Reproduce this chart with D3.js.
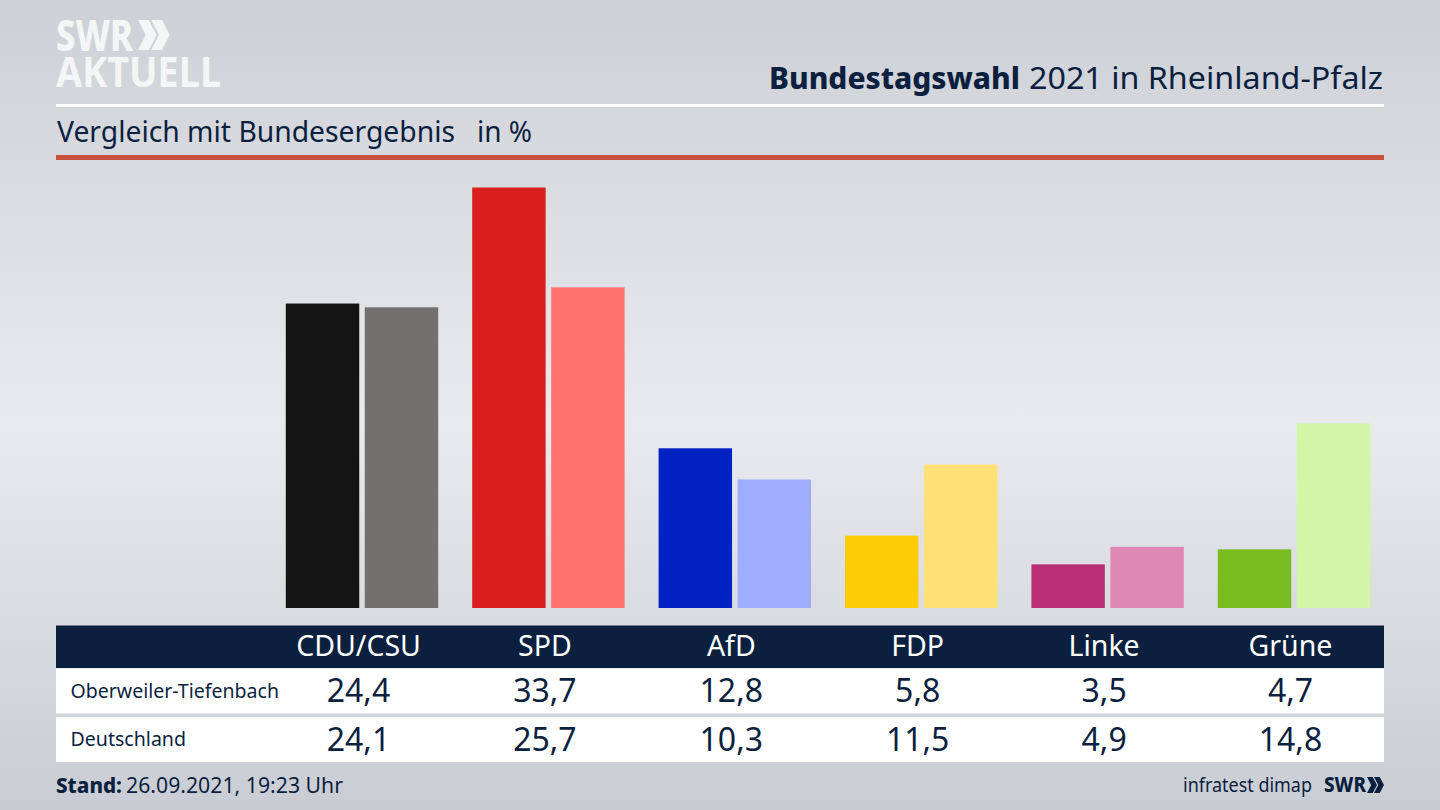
<!DOCTYPE html>
<html>
<head>
<meta charset="utf-8">
<script src="https://cdn.jsdelivr.net/npm/d3@7"></script>
<style>
  html, body { margin: 0; padding: 0; background: #dfe1e6; overflow: hidden; }
  svg { display: block; }
  text { font-family: "Noto Sans", sans-serif; fill: #0b1f3f; }
</style>
</head>
<body>
<div id="chart"></div>
<script>
// values
var parties = ["CDU/CSU", "SPD", "AfD", "FDP", "Linke", "Grüne"];
var rows = ["Oberweiler-Tiefenbach", "Deutschland"];
var local_values = [24.4, 33.7, 12.8, 5.8, 3.5, 4.7];
var national_values = [24.1, 25.7, 10.3, 11.5, 4.9, 14.8];
var local_colors = ["#141414", "#d81e1e", "#0222c4", "#ffcc0a", "#bb2f78", "#78bc1e"];
var national_colors = ["#72716f", "#ff726e", "#9eadff", "#ffe074", "#df88b6", "#d2f5a8"];

var width = 1440, height = 810;
var navy = "#0b1f3f";
var german = d3.format(".1f");
function comma(v) { return german(v).replace(".", ","); }

var svg = d3.select("#chart").append("svg")
    .attr("width", width)
    .attr("height", height);

// background gradient
var grad = svg.append("defs").append("linearGradient")
    .attr("id", "bg")
    .attr("x1", 0).attr("y1", 0).attr("x2", 0).attr("y2", 1);
grad.append("stop").attr("offset", "0%").attr("stop-color", "#cdd0d6");
grad.append("stop").attr("offset", "52%").attr("stop-color", "#e9eaef");
grad.append("stop").attr("offset", "100%").attr("stop-color", "#c9cdd3");
svg.append("rect").attr("width", width).attr("height", height).attr("fill", "url(#bg)");

// scales
var x_group = d3.scaleBand().domain(parties).range([268.8, 1387.2]);
var x_bar = d3.scaleBand().domain([0, 1]).range([17, 169.4]).paddingInner(0.07);
var y_scale = d3.scaleLinear().domain([0, 33.7]).range([608, 187.5]);

// chevron pair for the SWR mark, size = cap height
function chevrons(x, y, size, color) {
    var w = size * 0.62, t = size * 0.36, h = size / 2;
    [0, size * 0.44].forEach(function(dx) {
        var p = d3.path();
        p.moveTo(x + dx, y);
        p.lineTo(x + dx + t, y);
        p.lineTo(x + dx + w, y + h);
        p.lineTo(x + dx + t, y + size);
        p.lineTo(x + dx, y + size);
        p.lineTo(x + dx + w - t, y + h);
        p.closePath();
        svg.append("path").attr("d", p.toString()).attr("fill", color);
    });
}

// header
svg.append("text").attr("x", 56).attr("y", 50.5)
    .attr("font-size", 42).attr("font-weight", 800)
    .attr("textLength", 77).attr("lengthAdjust", "spacingAndGlyphs")
    .style("fill", "#f4f5f6").text("SWR");
chevrons(138, 20, 30, "#f4f5f6");
svg.append("text").attr("x", 56).attr("y", 87)
    .attr("font-size", 41).attr("font-weight", 700)
    .attr("textLength", 165).attr("lengthAdjust", "spacingAndGlyphs")
    .style("fill", "#f4f5f6").text("AKTUELL");

svg.append("text").attr("x", 769).attr("y", 89)
    .attr("font-size", 31).attr("font-weight", 800)
    .attr("textLength", 251).attr("lengthAdjust", "spacingAndGlyphs")
    .text("Bundestagswahl");
svg.append("text").attr("x", 1029).attr("y", 89)
    .attr("font-size", 31)
    .attr("textLength", 354).attr("lengthAdjust", "spacingAndGlyphs")
    .text("2021 in Rheinland-Pfalz");
svg.append("rect").attr("x", 56).attr("y", 104).attr("width", 1328).attr("height", 3).attr("fill", "#ffffff");

svg.append("text").attr("x", 57).attr("y", 142)
    .attr("font-size", 29)
    .attr("textLength", 398).attr("lengthAdjust", "spacingAndGlyphs")
    .text("Vergleich mit Bundesergebnis");
svg.append("text").attr("x", 477).attr("y", 142)
    .attr("font-size", 29)
    .attr("textLength", 55).attr("lengthAdjust", "spacingAndGlyphs")
    .text("in %");
svg.append("rect").attr("x", 56).attr("y", 155).attr("width", 1328).attr("height", 5).attr("fill", "#c9523f");

// bars
var series = [
    { values: local_values, colors: local_colors },
    { values: national_values, colors: national_colors }
];
series.forEach(function(s, i) {
    svg.append("g").selectAll("rect")
        .data(parties)
        .join("rect")
        .attr("x", function(d) { return x_group(d) + x_bar(i); })
        .attr("y", function(d, j) { return y_scale(s.values[j]); })
        .attr("width", x_bar.bandwidth())
        .attr("height", function(d, j) { return y_scale(0) - y_scale(s.values[j]); })
        .attr("fill", function(d, j) { return s.colors[j]; });
});

// table
var label_x = function(d) { return x_group(d) + x_group.bandwidth() / 2 - 3.5; };

svg.append("rect").attr("x", 56).attr("y", 625.5).attr("width", 1328).attr("height", 42.5).attr("fill", navy);
svg.append("g").selectAll("text")
    .data(parties)
    .join("text")
    .attr("x", label_x)
    .attr("y", 656)
    .attr("text-anchor", "middle")
    .attr("font-size", 28.5)
    .style("fill", "#ffffff")
    .text(function(d) { return d; });

var row_top = [668.5, 717];
var row_heights = [45, 45];
var row_label_widths = [208.5, 115.5];
var row_data = [local_values, national_values];
rows.forEach(function(r, i) {
    svg.append("rect").attr("x", 56).attr("y", row_top[i]).attr("width", 1328).attr("height", row_heights[i]).attr("fill", "#ffffff");
    svg.append("text").attr("x", 70.5).attr("y", row_top[i] + 29)
        .attr("font-size", 20)
        .attr("textLength", row_label_widths[i]).attr("lengthAdjust", "spacingAndGlyphs")
        .text(r);
    svg.append("g").selectAll("text")
        .data(parties)
        .join("text")
        .attr("x", label_x)
        .attr("y", row_top[i] + 33.5)
        .attr("text-anchor", "middle")
        .attr("font-size", 32)
        .text(function(d, j) { return comma(row_data[i][j]); });
});

// footer
svg.append("text").attr("x", 56).attr("y", 793)
    .attr("font-size", 22).attr("font-weight", 800)
    .attr("textLength", 66).attr("lengthAdjust", "spacingAndGlyphs")
    .text("Stand:");
svg.append("text").attr("x", 126).attr("y", 793)
    .attr("font-size", 22)
    .attr("textLength", 217).attr("lengthAdjust", "spacingAndGlyphs")
    .text("26.09.2021, 19:23 Uhr");
svg.append("text").attr("x", 1183).attr("y", 792)
    .attr("font-size", 20)
    .attr("textLength", 129).attr("lengthAdjust", "spacingAndGlyphs")
    .text("infratest dimap");
svg.append("text").attr("x", 1324).attr("y", 792)
    .attr("font-size", 22).attr("font-weight", 800)
    .attr("textLength", 42).attr("lengthAdjust", "spacingAndGlyphs")
    .text("SWR");
chevrons(1367, 777, 16, navy);
</script>
</body>
</html>
